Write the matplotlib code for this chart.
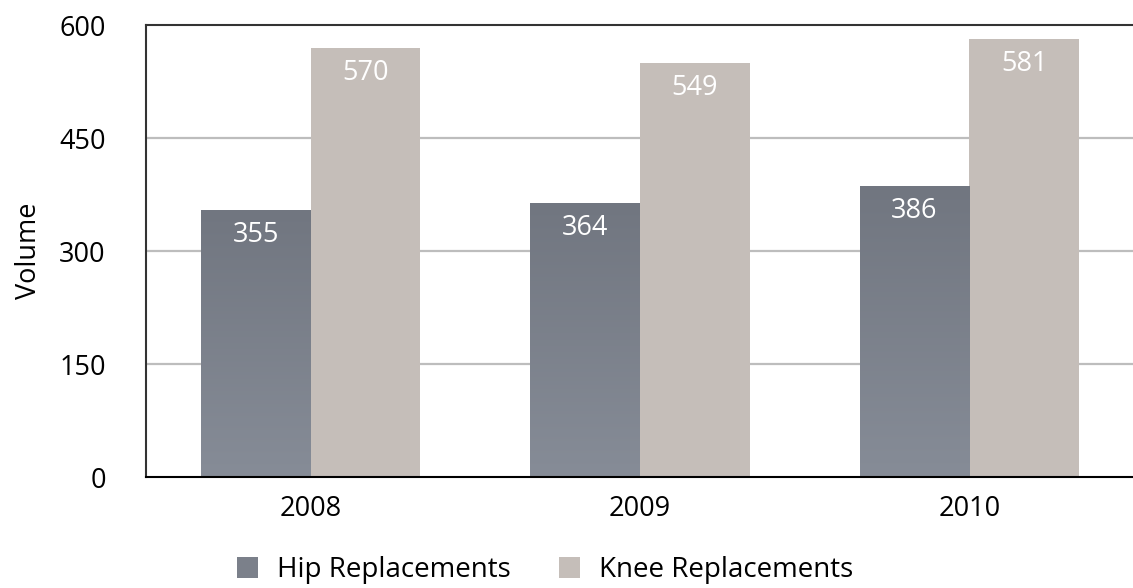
import numpy as np
import matplotlib
matplotlib.use("Agg")
import matplotlib.pyplot as plt
from matplotlib.patches import Patch
from matplotlib.colors import LinearSegmentedColormap

# --- DATA ---
years = ["2008", "2009", "2010"]
hip = [355, 364, 386]
knee = [570, 549, 581]
series_names = ["Hip Replacements", "Knee Replacements"]
y_ticks = [0, 150, 300, 450, 600]

# --- STYLE ---
HIP_TOP = "#717680"
HIP_BOTTOM = "#868c97"
KNEE_COLOR = "#c5beb9"
GRID_COLOR = "#bdbdbd"
FONT = "Open Sans"
FS = 19.5
FS_LEGEND = 20

plt.rcParams["font.family"] = [FONT, "DejaVu Sans"]

fig = plt.figure(figsize=(11.33, 5.88), dpi=100)
ax = fig.add_axes([146 / 1133, 111 / 588, 988 / 1133, 452 / 588])

x = np.arange(len(years))
w = 1 / 3

hip_bars = ax.bar(x - w / 2, hip, width=w, color=HIP_BOTTOM, zorder=2)
knee_bars = ax.bar(x + w / 2, knee, width=w, color=KNEE_COLOR, zorder=2)

# vertical gradient on the hip bars (darker at top)
grad_cmap = LinearSegmentedColormap.from_list("hip", [HIP_BOTTOM, HIP_TOP])
grad = np.linspace(0, 1, 256).reshape(-1, 1)
for bar in hip_bars:
    x0, y0 = bar.get_x(), bar.get_y()
    x1, y1 = x0 + bar.get_width(), y0 + bar.get_height()
    im = ax.imshow(grad, cmap=grad_cmap, origin="lower", aspect="auto",
                   extent=[x0, x1, y0, y1], zorder=2.5)
    im.set_clip_path(bar)

# value labels inside the bars, near the top
for bars, vals in ((hip_bars, hip), (knee_bars, knee)):
    for bar, v in zip(bars, vals):
        ax.annotate(str(v), (bar.get_x() + bar.get_width() / 2, v),
                    xytext=(0, -18), textcoords="offset points",
                    ha="center", va="center", color="white", fontsize=FS, zorder=3)

ax.set_xlim(-0.5, len(years) - 0.5)
ax.set_ylim(0, 600)
ax.set_yticks(y_ticks)
ax.set_xticks(x)
ax.set_xticklabels(years)
ax.tick_params(axis="both", length=0, labelsize=FS)
ax.tick_params(axis="y", pad=29)
ax.tick_params(axis="x", pad=13)

for yv in y_ticks[1:-1]:
    ax.axhline(yv, color=GRID_COLOR, linewidth=1.6, zorder=1)

ax.spines["right"].set_visible(False)
ax.spines["left"].set_color("#333333")
ax.spines["top"].set_color("#333333")
ax.spines["bottom"].set_color("black")
for s in ("left", "top", "bottom"):
    ax.spines[s].set_linewidth(1.5)

ax.set_ylabel("Volume", fontsize=FS, labelpad=12)

handles = [Patch(facecolor="#7b808a"), Patch(facecolor=KNEE_COLOR)]
fig.legend(handles, series_names, loc="center", bbox_to_anchor=(545 / 1133, 1 - 570 / 588),
           ncol=2, frameon=False, fontsize=FS_LEGEND, handlelength=0.76, handleheight=0.76,
           handletextpad=0.68, columnspacing=1.76)

fig.savefig("out.png", dpi=100)
